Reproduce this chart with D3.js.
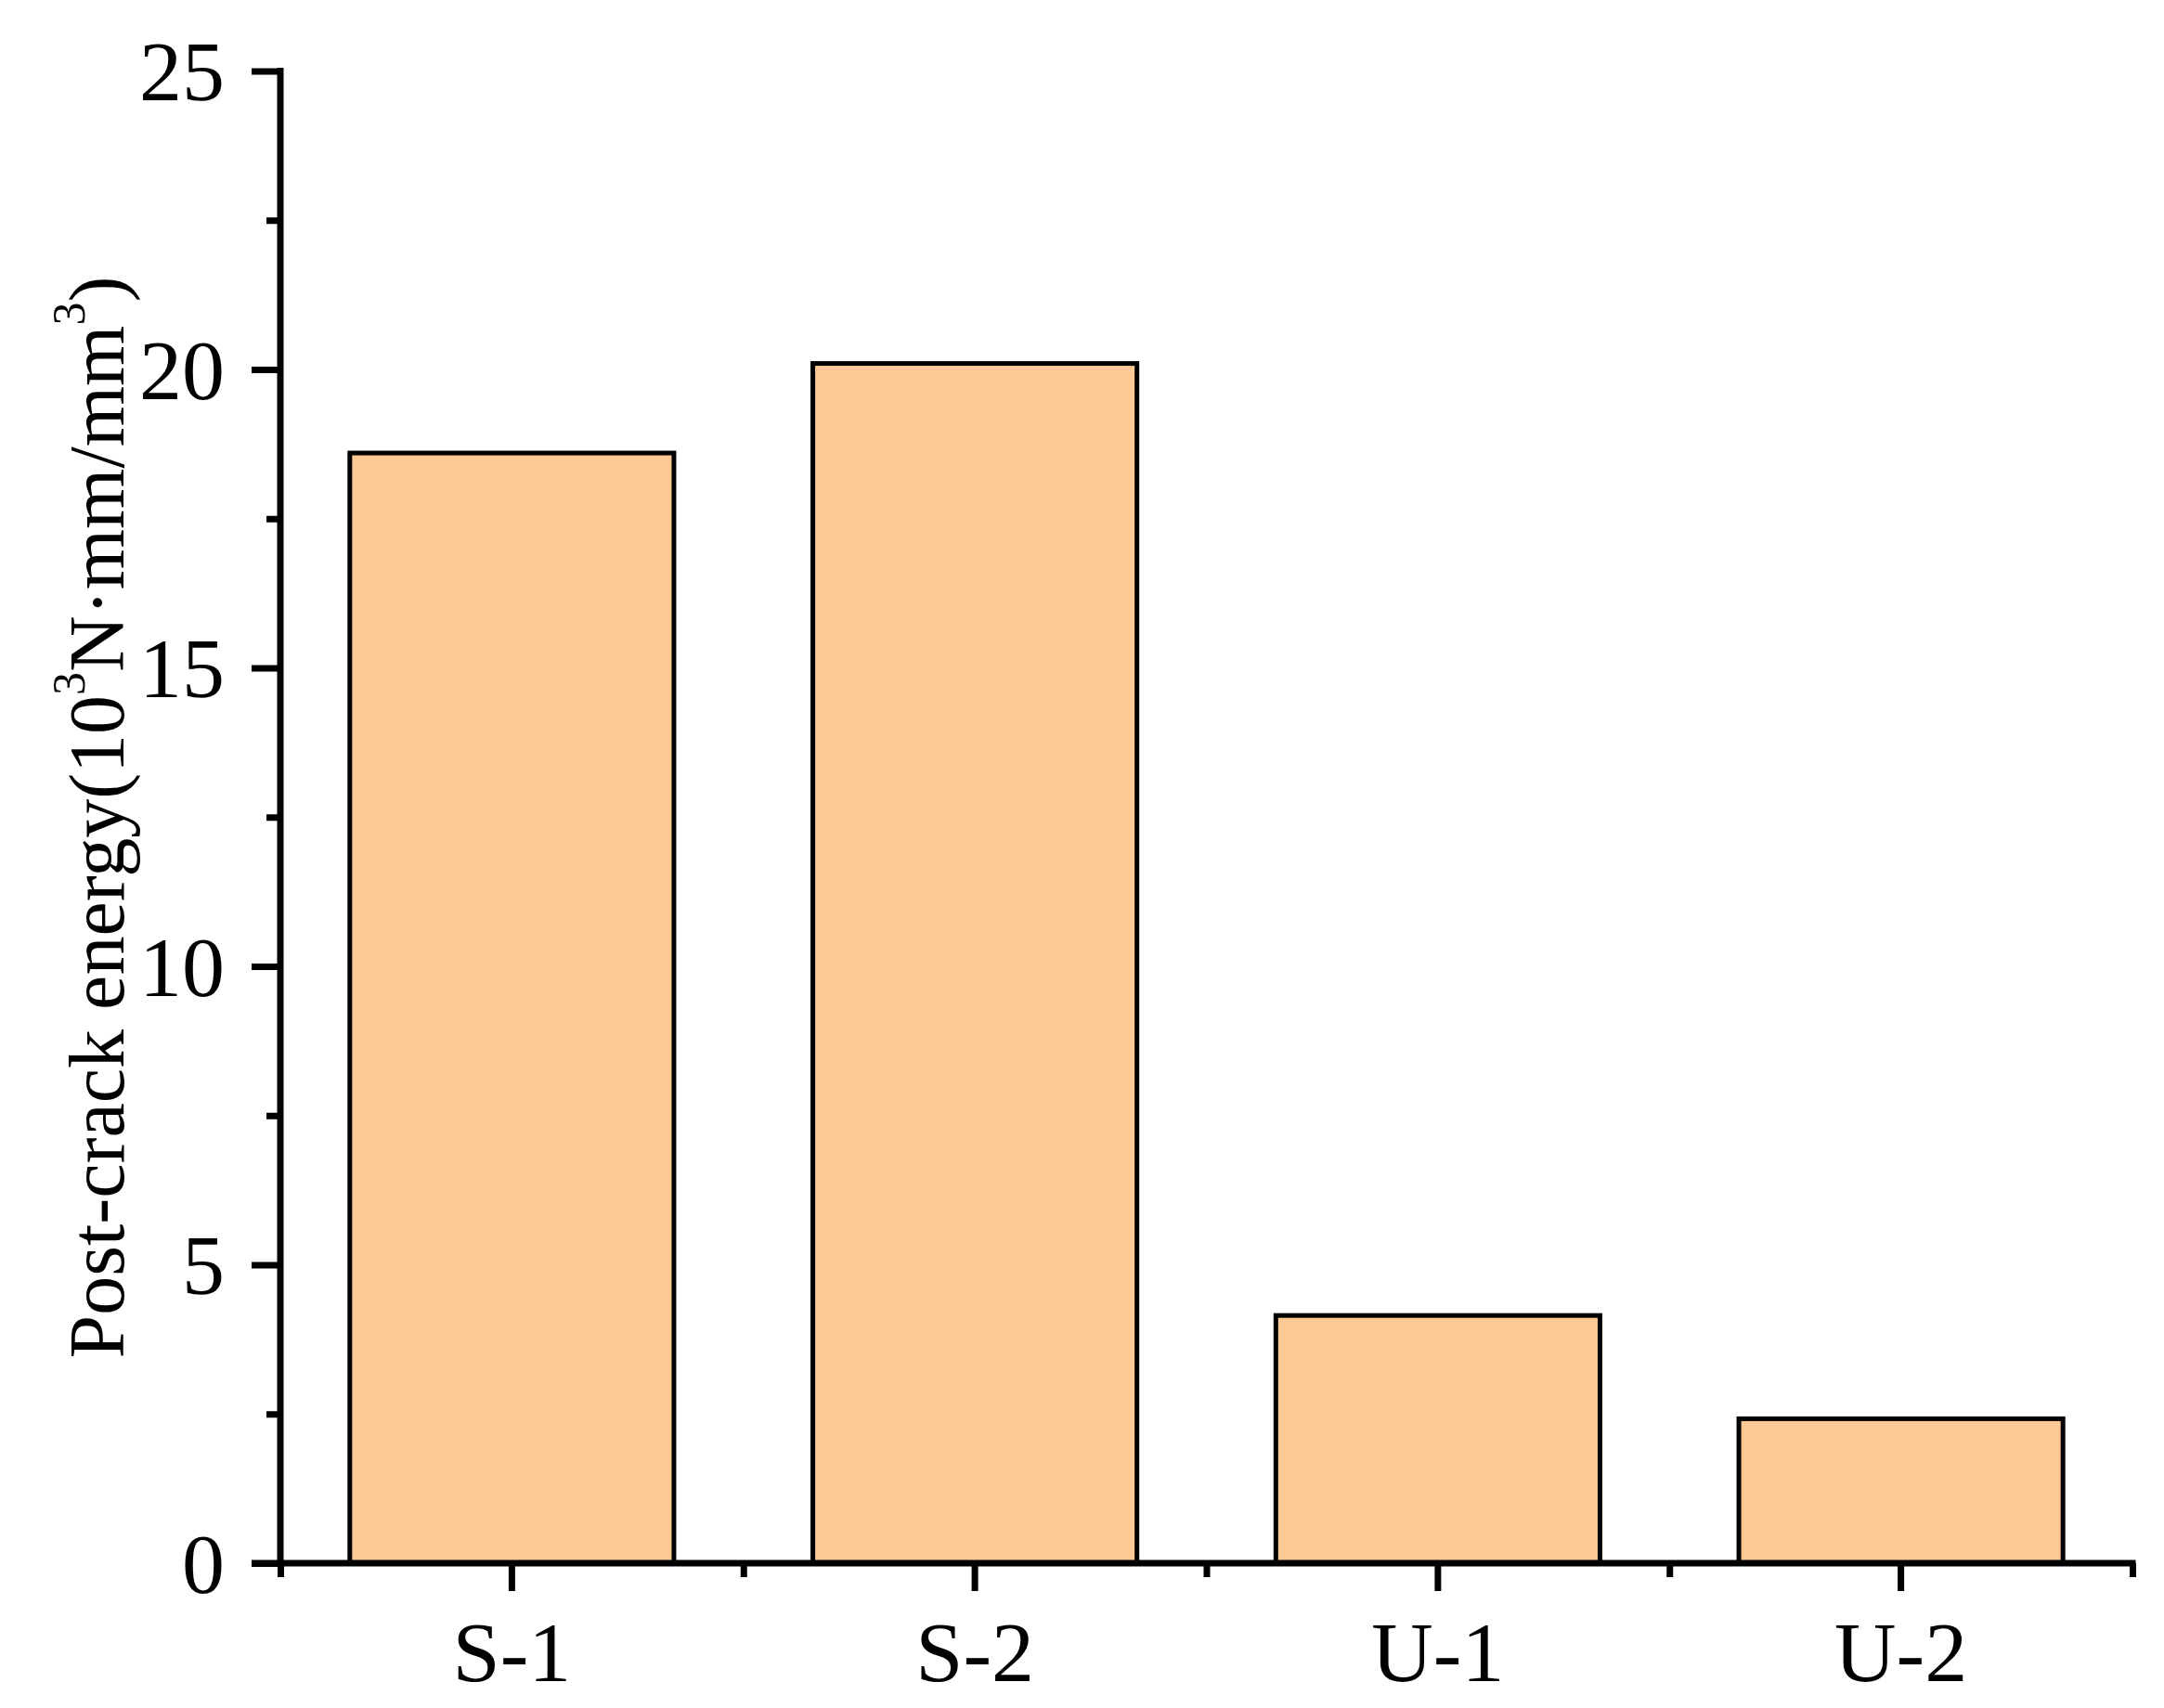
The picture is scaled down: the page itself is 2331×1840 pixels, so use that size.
<!DOCTYPE html>
<html><head><meta charset="utf-8">
<script src="https://cdn.jsdelivr.net/npm/d3@7"></script>
<style>body{margin:0;background:#fff}svg{display:block}</style>
</head><body>
<script>
const categories = ["S-1", "S-2", "U-1", "U-2"];
const values = [18.6, 20.1, 4.15, 2.42];
const yTicks = [0, 5, 10, 15, 20, 25];
const yMinorTicks = [2.5, 7.5, 12.5, 17.5, 22.5];

const W = 2331, H = 1840;
const pLeft = 302, pRight = 2297, pTop = 76.5, pBottom = 1684;
const svg = d3.select("body").append("svg").attr("width", W).attr("height", H);
const font = "Liberation Serif";

const x = d3.scaleBand().domain(categories).range([pLeft, pRight]).paddingInner(0.3).paddingOuter(0.15);
const y = d3.scaleLinear().domain([0, 25]).range([pBottom, pTop]);

// bars
svg.append("g").selectAll("rect").data(categories).join("rect")
  .attr("x", d => x(d)).attr("width", x.bandwidth())
  .attr("y", (d, i) => y(values[i])).attr("height", (d, i) => y(0) - y(values[i]))
  .attr("fill", "#FFC995").attr("stroke", "#000").attr("stroke-width", 5);

const lw = 7;
// y axis major
const yAxis = svg.append("g").attr("transform", `translate(${pLeft},0)`)
  .call(d3.axisLeft(y).tickValues(yTicks).tickSize(31).tickSizeOuter(0).tickPadding(29));
yAxis.select(".domain").remove();
yAxis.selectAll(".tick line").attr("stroke-width", lw).attr("stroke", "#000");
yAxis.selectAll(".tick text").attr("font-family", font).attr("font-size", 92).attr("fill", "#000").attr("dy", "0.34em");
// y minor
const yMin = svg.append("g").attr("transform", `translate(${pLeft},0)`)
  .call(d3.axisLeft(y).tickValues(yMinorTicks).tickSize(15).tickFormat(""));
yMin.select(".domain").remove();
yMin.selectAll(".tick line").attr("stroke-width", lw).attr("stroke", "#000");

// x axis major
const xAxis = svg.append("g").attr("transform", `translate(0,${pBottom})`)
  .call(d3.axisBottom(x).tickSize(30).tickSizeOuter(0).tickPadding(32));
xAxis.select(".domain").remove();
xAxis.selectAll(".tick line").attr("stroke-width", lw).attr("stroke", "#000");
xAxis.selectAll(".tick text").attr("font-family", font).attr("font-size", 92).attr("fill", "#000");
// x minor at band boundaries
const xb = d3.scaleLinear().domain([0, categories.length]).range([pLeft, pRight]);
const xMin = svg.append("g").attr("transform", `translate(0,${pBottom})`)
  .call(d3.axisBottom(xb).tickValues(d3.range(0, categories.length + 1)).tickSize(15).tickFormat(""));
xMin.select(".domain").remove();
xMin.selectAll(".tick line").attr("stroke-width", lw).attr("stroke", "#000");

// axis lines
svg.append("line").attr("x1", pLeft).attr("x2", pLeft).attr("y1", pTop - lw/2).attr("y2", pBottom)
  .attr("stroke", "#000").attr("stroke-width", lw);
svg.append("line").attr("x1", pLeft - 31).attr("x2", pRight + lw/2).attr("y1", pBottom).attr("y2", pBottom)
  .attr("stroke", "#000").attr("stroke-width", lw);

// y label
const yl = svg.append("text").attr("transform", `translate(104,${(297+1464)/2}) rotate(-90)`)
  .attr("text-anchor", "middle").attr("font-family", font).attr("font-size", 84).attr("fill", "#000")
  .attr("dominant-baseline", "central");
yl.append("tspan").text("Post-crack energy(10");
yl.append("tspan").text("3").attr("font-size", 50).attr("dy", -30);
yl.append("tspan").text("N·mm/mm").attr("dy", 30);
yl.append("tspan").text("3").attr("font-size", 50).attr("dy", -30);
yl.append("tspan").text(")").attr("dy", 30);
</script>
</body></html>
